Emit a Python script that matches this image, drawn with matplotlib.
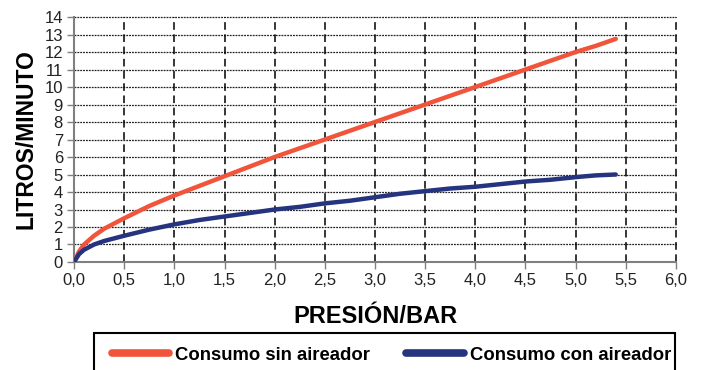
import numpy as np
import matplotlib.pyplot as plt
from matplotlib.patches import Rectangle

plt.rcParams['font.family'] = ['Liberation Sans', 'DejaVu Sans']

# data
presion = [0.0, 0.05, 0.1, 0.2, 0.3, 0.5, 0.75, 1.0, 1.25, 1.5, 1.75, 2.0, 2.25, 2.5,
           2.75, 3.0, 3.25, 3.5, 3.75, 4.0, 4.25, 4.5, 4.75, 5.0, 5.2, 5.4]
sin_aireador = [0.0, 0.6, 1.0, 1.5, 1.9, 2.5, 3.2, 3.8, 4.35, 4.9, 5.45, 6.0, 6.5, 7.0,
                7.5, 8.0, 8.5, 9.0, 9.5, 10.0, 10.5, 11.0, 11.5, 12.0, 12.35, 12.75]
con_aireador = [0.0, 0.45, 0.7, 1.0, 1.2, 1.5, 1.85, 2.15, 2.4, 2.6, 2.8, 3.0, 3.15, 3.35,
                3.5, 3.7, 3.9, 4.05, 4.2, 4.3, 4.45, 4.6, 4.7, 4.85, 4.95, 5.0]

x_ticks = np.arange(0, 6.01, 0.5)
x_labels = [f'{v:.1f}'.replace('.', ',') for v in x_ticks]
y_ticks = np.arange(0, 15, 1)

fig = plt.figure(figsize=(7.01, 3.70), dpi=100)
ax = fig.add_axes([0.1056, 0.2919, 0.8587, 0.6621])

ax.plot(presion, sin_aireador, color='#f0553c', lw=3.2, solid_capstyle='round',
        label='Consumo sin aireador', zorder=3)
ax.plot(presion, con_aireador, color='#26337f', lw=3.2, solid_capstyle='round',
        label='Consumo con aireador', zorder=3)

ax.set_xlim(0, 6)
ax.set_ylim(0, 14)
ax.set_xticks(x_ticks)
ax.set_xticklabels(x_labels)
ax.set_yticks(y_ticks)

for y in y_ticks[1:]:
    ax.axhline(y, color='#222222', lw=0.9, ls=(0, (1.5, 0.8)), zorder=1, clip_on=False)
for x in x_ticks[1:]:
    ax.axvline(x, color='#000000', lw=1.1, ls=(0, (5, 3)), zorder=1, clip_on=False)

for side in ['top', 'right']:
    ax.spines[side].set_visible(False)
for side in ['left', 'bottom']:
    ax.spines[side].set_color('#808080')
    ax.spines[side].set_linewidth(1.5)

ax.tick_params(axis='both', length=5, width=1.0, color='#808080', labelsize=12,
               labelcolor='#222222', pad=3)

ax.set_xlabel('PRESIÓN/BAR', fontsize=17, fontweight='bold', labelpad=12)
ax.set_ylabel('LITROS/MINUTO', fontsize=16.5, fontweight='bold', labelpad=5)

# legend box runs off the bottom edge, as in the reference
fig.patches.append(Rectangle((94 / 701, -0.05), 581 / 701, 0.05 + 37 / 370,
                             transform=fig.transFigure, fill=False,
                             edgecolor='black', lw=1.5))
leg = fig.legend(loc='center', bbox_to_anchor=(391.5 / 701, 15 / 370), ncol=2,
                 frameon=False, handlelength=3.1, handletextpad=0.33,
                 columnspacing=1.95, prop={'weight': 'bold', 'size': 13.3})
for h in leg.get_lines():
    h.set_linewidth(5.5)

plt.savefig('out.png', dpi=100)
